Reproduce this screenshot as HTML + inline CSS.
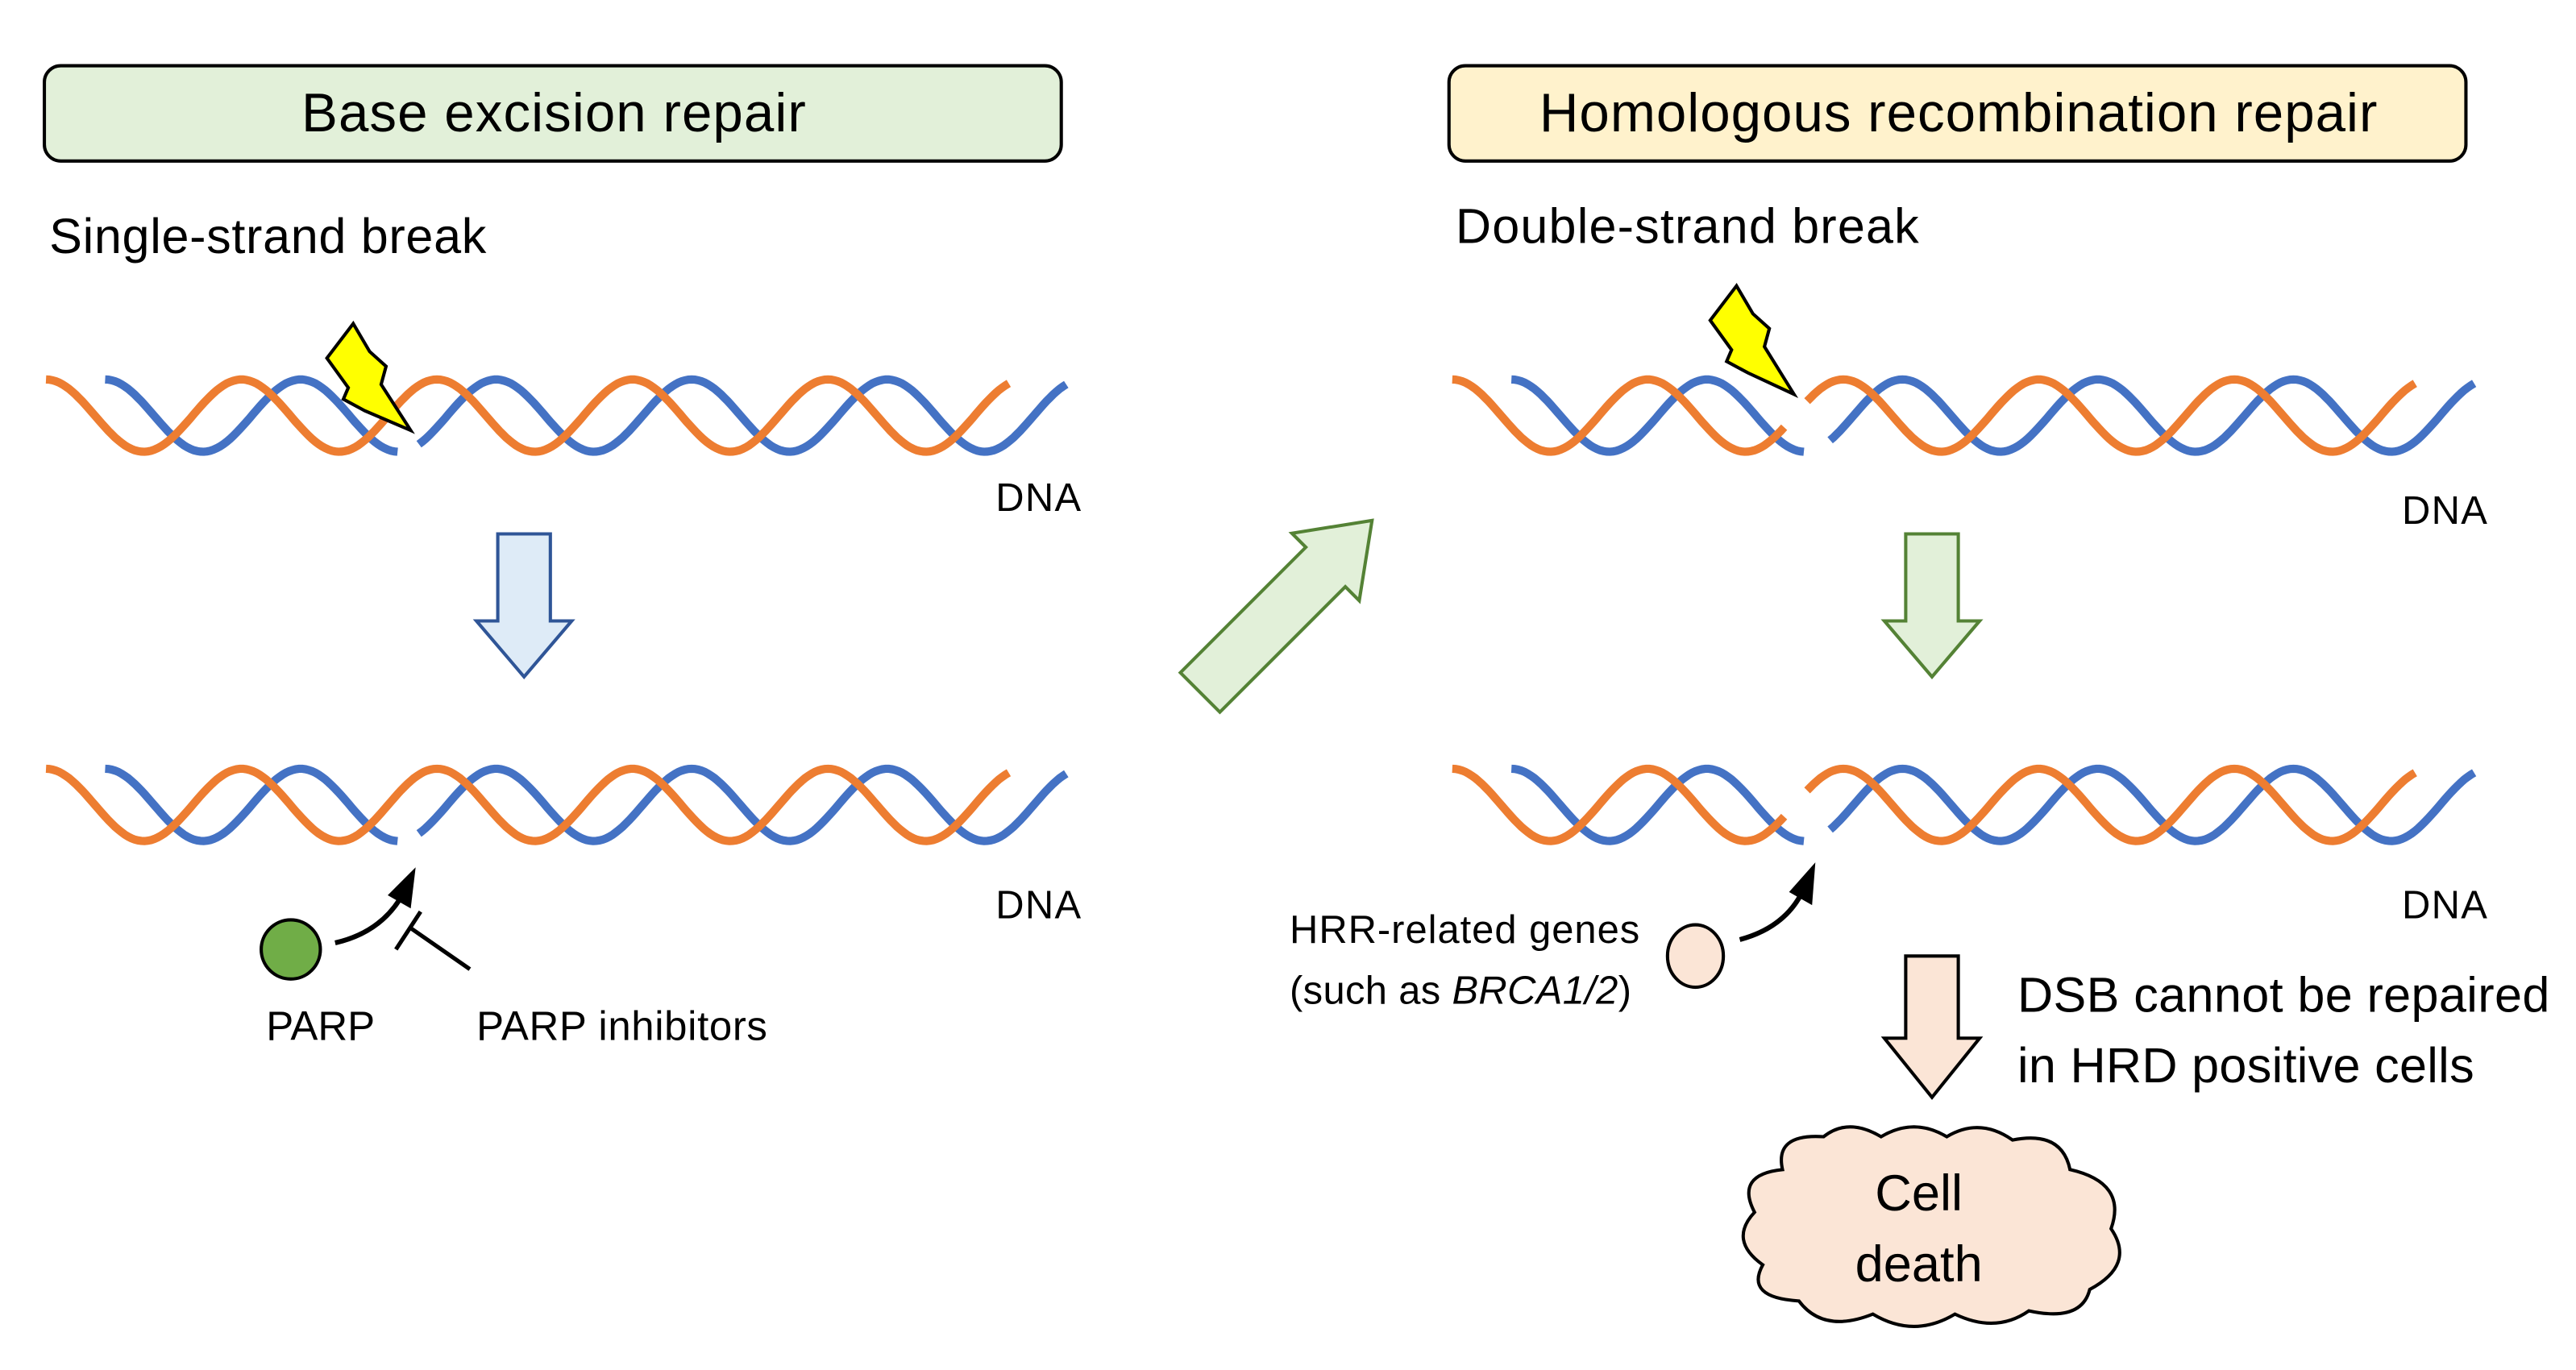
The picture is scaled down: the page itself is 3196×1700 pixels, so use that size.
<!DOCTYPE html>
<html><head><meta charset="utf-8"><style>
html,body{margin:0;padding:0;background:#fff;}
svg{display:block;}
text{font-family:"Liberation Sans",sans-serif;fill:#000;}
</style></head><body>
<svg id="s" width="3196" height="1700" viewBox="0 0 1568 834" xmlns="http://www.w3.org/2000/svg">
<rect x="0" y="0" width="1568" height="834" fill="#fff"/>
<rect x="27" y="40" width="619" height="58" rx="10" fill="#e2f0d9" stroke="#000" stroke-width="2"/>
<text x="337" y="80" font-size="33" text-anchor="middle" textLength="307">Base excision repair</text>
<rect x="882" y="40" width="619" height="58" rx="10" fill="#fff2cc" stroke="#000" stroke-width="2"/>
<text x="1192" y="80" font-size="33" text-anchor="middle" textLength="510">Homologous recombination repair</text>
<text x="30" y="154" font-size="30" textLength="266">Single-strand break</text>
<text x="886" y="148" font-size="30" textLength="282">Double-strand break</text>

<g id="helix" fill="none" stroke-width="5" stroke-linecap="butt"></g>

<g font-size="24">
<text x="606" y="311" textLength="52">DNA</text>
<text x="606" y="559" textLength="52">DNA</text>
<text x="1462" y="319" textLength="52">DNA</text>
<text x="1462" y="559" textLength="52">DNA</text>
</g>

<polygon points="215,197 199,218 212,236 209,243 222,250 250,262 232,234 235,223 225,214" fill="#ffff00" stroke="#000" stroke-width="2"/>
<polygon points="1057,174 1041,195 1054,213 1051,220 1064,227 1092,240 1074,211 1077,200 1067,191" fill="#ffff00" stroke="#000" stroke-width="2"/>

<polygon points="303,325 335,325 335,378 348,378 319,412 290,378 303,378" fill="#deebf7" stroke="#2f5597" stroke-width="2"/>
<polygon points="1160,325 1192,325 1192,378 1205,378 1176,412 1147,378 1160,378" fill="#e2f0d9" stroke="#548235" stroke-width="2"/>
<polygon points="1160,582 1192,582 1192,632 1205,632 1176,668 1147,632 1160,632" fill="#fbe5d6" stroke="#000" stroke-width="2"/>
<g transform="translate(780,372) rotate(-45)">
<polygon points="-70,-17 38,-17 38,-29 78,0 38,29 38,17 -70,17" fill="#e2f0d9" stroke="#548235" stroke-width="2"/>
</g>

<circle cx="177" cy="578" r="18" fill="#70ad47" stroke="#000" stroke-width="2"/>
<path d="M204,574 Q230,568 243,548" fill="none" stroke="#000" stroke-width="3"/>
<polygon points="236,545 253,528 250,553" fill="#000"/>
<line x1="286" y1="590" x2="250" y2="565" stroke="#000" stroke-width="2.5"/>
<line x1="241" y1="578" x2="256" y2="555" stroke="#000" stroke-width="2.5"/>
<text x="162" y="633" font-size="25">PARP</text>
<text x="290" y="633" font-size="25" textLength="177">PARP inhibitors</text>

<ellipse cx="1032" cy="582" rx="17" ry="19" fill="#fbe5d6" stroke="#000" stroke-width="2"/>
<path d="M1059,572 Q1085,565 1096,545" fill="none" stroke="#000" stroke-width="3"/>
<polygon points="1089,543 1105,525 1103,551" fill="#000"/>
<text x="785" y="574" font-size="24" textLength="213">HRR-related genes</text>
<text x="785" y="611" font-size="24" textLength="208">(such as <tspan font-style="italic">BRCA1/2</tspan>)</text>
<text x="1228" y="616" font-size="30" textLength="324">DSB cannot be repaired</text>
<text x="1228" y="659" font-size="30" textLength="278">in HRD positive cells</text>

<path d="M1085,712 Q1080,690 1110,692 Q1125,680 1145,692 Q1165,680 1185,692 Q1205,680 1225,694 Q1255,688 1260,712 Q1295,720 1285,748 Q1300,770 1272,785 Q1267,805 1235,798 Q1215,812 1190,800 Q1165,815 1140,800 Q1110,812 1095,792 Q1062,790 1073,770 Q1052,755 1068,738 Q1056,715 1085,712 Z" fill="#fbe5d6" stroke="#000" stroke-width="2"/>
<text x="1168" y="737" font-size="31" text-anchor="middle">Cell</text>
<text x="1168" y="780" font-size="31" text-anchor="middle">death</text>
</svg>
<script>
(function(){
var g=document.getElementById('helix');
function wave(x0,x1,phase,cy,color){
  var d='';var A=22,P=119;
  for(var x=x0;x<=x1+0.01;x+=2){
    var y=cy-A*Math.cos(2*Math.PI*(x-phase)/P);
    d+=(d?'L':'M')+x.toFixed(1)+','+y.toFixed(1);
  }
  var p=document.createElementNS('http://www.w3.org/2000/svg','path');
  p.setAttribute('d',d);p.setAttribute('stroke',color);g.appendChild(p);
}
var O='#ed7d31',B='#4472c4';
[253,490].forEach(function(cy){
  wave(64,242,64,cy,B);wave(255,650,64,cy,B);
  wave(28,614,28,cy,O);
  var off=856;
  wave(64+off,1098,64+off,cy,B);wave(1114,650+off,64+off,cy,B);
  wave(28+off,1086,28+off,cy,O);wave(1100,614+off,28+off,cy,O);
});
})();
</script>
</body></html>
